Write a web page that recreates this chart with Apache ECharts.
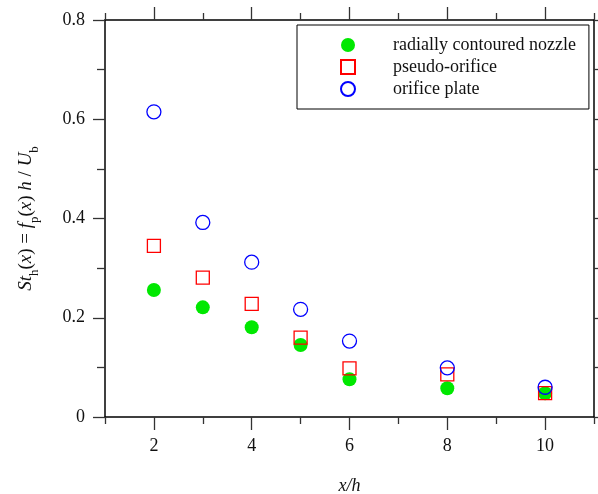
<!DOCTYPE html>
<html><head><meta charset="utf-8">
<script src="https://cdn.jsdelivr.net/npm/echarts@6/dist/echarts.min.js"></script>
<style>html,body{margin:0;padding:0;background:#fff}#c{width:598px;height:494px}</style>
</head><body><div id="c"></div>
<script>
var xValues = [2, 3, 4, 5, 6, 8, 10];
var nozzle = [0.256, 0.221, 0.181, 0.145, 0.076, 0.058, 0.048];
var pseudo = [0.345, 0.281, 0.228, 0.160, 0.098, 0.086, 0.048];
var orifice = [0.615, 0.392, 0.312, 0.217, 0.153, 0.099, 0.060];
var seriesNames = ['radially contoured nozzle', 'pseudo-orifice', 'orifice plate'];
var xMajorTicks = [2, 4, 6, 8, 10];
var xMinorTicks = [1, 3, 5, 7, 9, 11];

var FONT = 'Liberation Serif';
function pairs(ys) { return xValues.map(function (x, i) { return [x, ys[i]]; }); }

var lineStyle = { color: '#000', width: 1.5 };
var tickStyle = { color: '#333', width: 1.3 };
function xAx(pos, vals, len, withLine, withLabels, name) {
  var a = {
    type: 'value', min: 1, max: 11, position: pos,
    axisLine: { show: withLine, lineStyle: lineStyle },
    axisTick: { show: true, inside: false, length: len, customValues: vals, lineStyle: tickStyle },
    axisLabel: withLabels ? { show: true, customValues: vals, margin: 20, fontFamily: FONT, fontSize: 18, color: '#111' } : { show: false },
    splitLine: { show: false }
  };
  if (name) {
    a.name = name; a.nameLocation = 'middle'; a.nameGap = 60;
    a.nameTextStyle = { fontFamily: FONT, fontSize: 18, fontStyle: 'italic', color: '#111' };
  }
  return a;
}
function yAx(pos, withLabels) {
  var a = {
    type: 'value', min: 0, max: 0.8, interval: 0.2, position: pos,
    axisLine: { show: true, lineStyle: lineStyle },
    axisTick: { show: true, inside: false, length: 12, lineStyle: tickStyle },
    minorTick: { show: true, splitNumber: 2, length: 8, lineStyle: tickStyle },
    axisLabel: withLabels ? { show: true, margin: 20, fontFamily: FONT, fontSize: 18, color: '#111' } : { show: false },
    splitLine: { show: false }
  };
  if (withLabels) {
    a.name = '{i|St}{s|h}{n|(}{i|x}{n|) = }{i|f}{s|p}{n|(}{i|x}{n|) }{i|h}{n| / }{i|U}{s|b}';
    a.nameLocation = 'middle'; a.nameGap = 64;
    var base = { fontFamily: FONT, fontSize: 19, color: '#111', lineHeight: 30, verticalAlign: 'middle' };
    a.nameTextStyle = {
      fontFamily: FONT, fontSize: 19, color: '#111',
      rich: {
        i: Object.assign({}, base, { fontStyle: 'italic' }),
        n: Object.assign({}, base),
        s: { fontFamily: FONT, fontSize: 13, color: '#111', lineHeight: 13, verticalAlign: 'bottom' }
      }
    };
  }
  return a;
}

var chart = echarts.init(document.getElementById('c'), null, { renderer: 'canvas' });
chart.setOption({
  animation: false,
  backgroundColor: '#fff',
  grid: { left: 105, right: 4, top: 20, bottom: 77, containLabel: false, outerBoundsMode: 'none' },
  xAxis: [
    xAx('bottom', xMajorTicks, 13, true, true, 'x/h'),
    xAx('bottom', xMinorTicks, 7, false, false),
    xAx('top', xMajorTicks, 13, true, false),
    xAx('top', xMinorTicks, 7, false, false)
  ],
  yAxis: [yAx('left', true), yAx('right', false)],
  legend: {
    orient: 'vertical', left: 297, top: 25,
    padding: [9, 13, 9, 43], itemGap: 0, itemWidth: 14, itemHeight: 14,
    borderColor: '#000', borderWidth: 1, backgroundColor: '#fff',
    textStyle: { fontFamily: FONT, fontSize: 18, color: '#111', lineHeight: 22, padding: [0, 0, 0, 33] },
    data: [
      { name: seriesNames[0], icon: 'circle' },
      { name: seriesNames[1], icon: 'rect' },
      { name: seriesNames[2], icon: 'circle' }
    ]
  },
  series: [
    { name: seriesNames[0], type: 'scatter', xAxisIndex: 0, yAxisIndex: 0, data: pairs(nozzle),
      symbol: 'circle', symbolSize: 14, itemStyle: { color: '#00e800', opacity: 1 } },
    { name: seriesNames[1], type: 'scatter', xAxisIndex: 0, yAxisIndex: 0, data: pairs(pseudo),
      symbol: 'rect', symbolSize: 13, itemStyle: { color: 'transparent', borderColor: '#ff0000', borderWidth: 1.3, opacity: 1 } },
    { name: seriesNames[2], type: 'scatter', xAxisIndex: 0, yAxisIndex: 0, data: pairs(orifice),
      symbol: 'circle', symbolSize: 14, itemStyle: { color: 'transparent', borderColor: '#0000ff', borderWidth: 1.3, opacity: 1 } }
  ]
});
</script>
</body></html>
